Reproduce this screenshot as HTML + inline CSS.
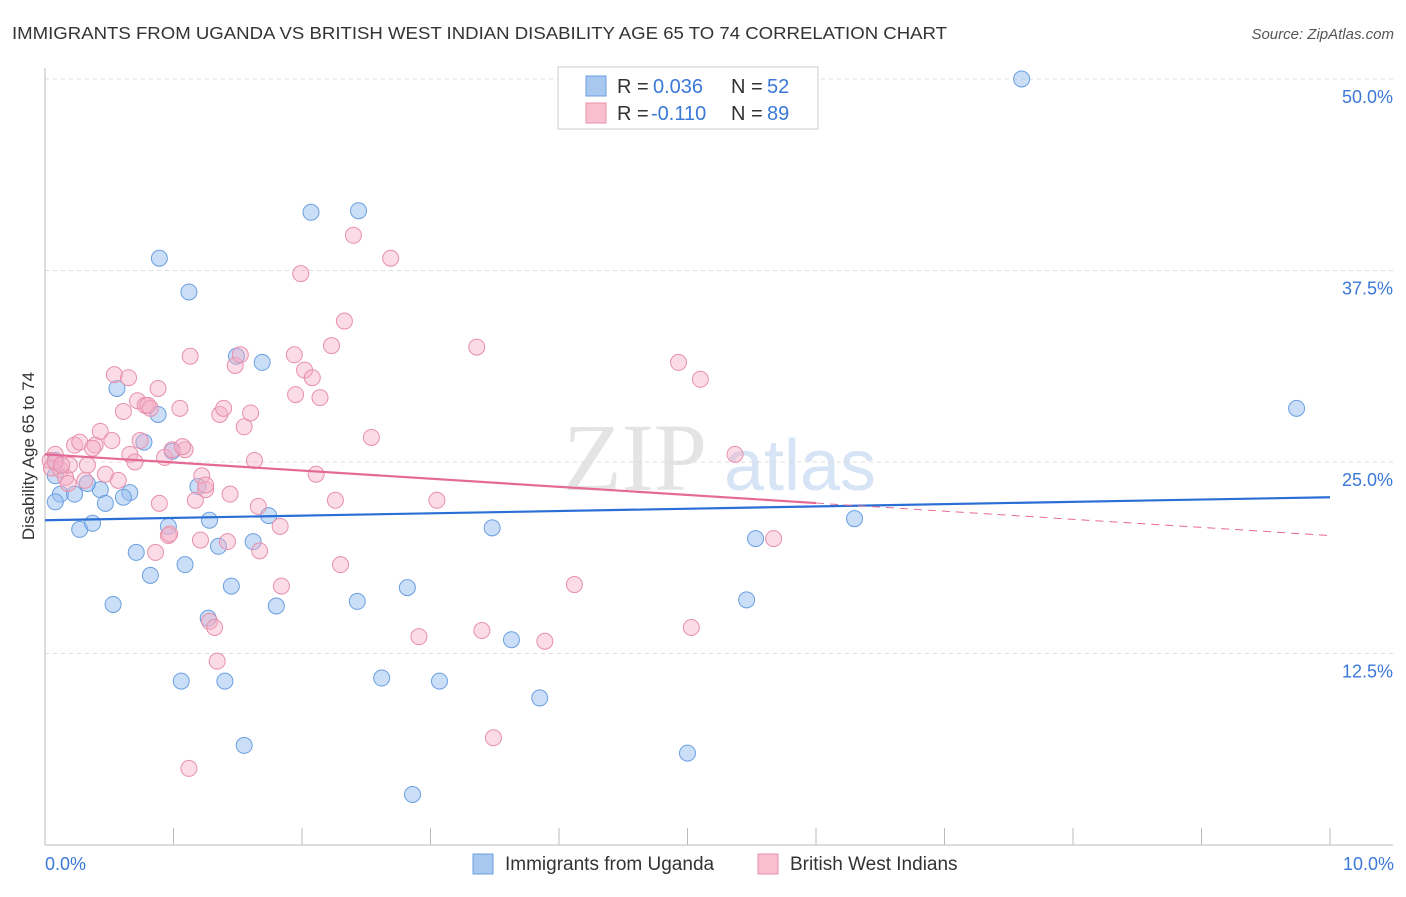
<!DOCTYPE html>
<html><head><meta charset="utf-8"><style>
body{margin:0;background:#fff;font-family:"Liberation Sans",sans-serif}
</style></head><body>
<svg id="c" width="1406" height="892" xmlns="http://www.w3.org/2000/svg">
<text x="12" y="39" font-size="17.5" fill="#333" textLength="935" lengthAdjust="spacingAndGlyphs">IMMIGRANTS FROM UGANDA VS BRITISH WEST INDIAN DISABILITY AGE 65 TO 74 CORRELATION CHART</text>
<text x="1394" y="39" font-size="15" fill="#555" font-style="italic" text-anchor="end">Source: ZipAtlas.com</text>
<text x="635" y="490" font-size="96" fill="#e4e4e4" font-family="Liberation Serif,serif" text-anchor="middle">ZIP</text>
<text x="800" y="490" font-size="72" fill="#d6e4f5" text-anchor="middle">atlas</text>
<g id="grid"></g>
<g id="pts"></g>
<g id="lines"></g>
<text transform="translate(34,456) rotate(-90)" font-size="17" fill="#333" text-anchor="middle">Disability Age 65 to 74</text>
<text x="45" y="870" font-size="18" fill="#3b78d8">0.0%</text>
<text x="1394" y="870" font-size="18" fill="#3b78d8" text-anchor="end">10.0%</text>
<g>
<rect x="558" y="67" width="260" height="62" fill="#fff" stroke="#ccc"/>
<rect x="586" y="76" width="20" height="20" fill="#a9c8f0" stroke="#6a9fe0"/>
<rect x="586" y="103" width="20" height="20" fill="#f7bfd0" stroke="#e890ab"/>
<text x="617" y="93" font-size="20" fill="#333">R = </text><text x="653" y="93" font-size="20" fill="#3b78d8">0.036</text>
<text x="731" y="93" font-size="20" fill="#333">N = </text><text x="767" y="93" font-size="20" fill="#3b78d8">52</text>
<text x="617" y="120" font-size="20" fill="#333">R = </text><text x="651" y="120" font-size="20" fill="#3b78d8">-0.110</text>
<text x="731" y="120" font-size="20" fill="#333">N = </text><text x="767" y="120" font-size="20" fill="#3b78d8">89</text>
</g>
<g>
<rect x="473" y="854" width="20" height="20" fill="#a9c8f0" stroke="#6a9fe0"/>
<text x="505" y="870" font-size="19" fill="#333">Immigrants from Uganda</text>
<rect x="758" y="854" width="20" height="20" fill="#f7bfd0" stroke="#e890ab"/>
<text x="790" y="870" font-size="19" fill="#333">British West Indians</text>
</g>
</svg>
<script>
const yTicks=[12.5,25,37.5,50];
const yTickLabels=["12.5%","25.0%","37.5%","50.0%"];
const xTicks=[1,2,3,4,5,6,7,8,9,10];
const blueX=[7.60,2.07,2.44,0.89,1.12,1.49,1.69,0.56,0.88,9.74,0.77,0.99,0.08,0.08,0.12,0.23,0.43,0.66,0.61,0.47,0.08,1.19,0.27,0.37,1.28,1.74,0.96,1.62,3.48,6.30,5.53,0.71,1.35,1.09,0.82,1.45,2.82,0.53,1.80,2.43,5.46,1.27,3.63,1.06,1.40,2.62,3.07,3.85,1.55,5.00,2.86,0.33];
const blueY=[50.0,41.3,41.4,38.3,36.1,31.9,31.5,29.8,28.1,28.5,26.3,25.7,25.1,24.1,22.9,22.9,23.2,23.0,22.7,22.3,22.4,23.4,20.6,21.0,21.2,21.5,20.8,19.8,20.7,21.3,20.0,19.1,19.5,18.3,17.6,16.9,16.8,15.7,15.6,15.9,16.0,14.8,13.4,10.7,10.7,10.9,10.7,9.6,6.5,6.0,3.3,23.6];
const pinkX=[0.08,0.04,0.05,0.12,0.16,0.19,0.23,0.27,0.31,0.39,0.43,0.47,0.52,0.54,0.57,0.61,0.65,0.66,0.70,0.72,0.78,0.82,0.86,0.88,0.89,0.93,0.96,0.99,1.05,1.09,1.13,1.17,1.21,1.22,1.25,1.28,1.32,1.34,1.36,1.39,1.42,1.44,1.48,1.52,1.55,1.60,1.63,1.66,1.67,1.83,1.84,1.94,1.95,1.99,2.02,2.08,2.11,2.14,2.23,2.26,2.30,2.33,2.40,2.54,2.69,2.91,3.05,3.36,3.40,3.49,3.89,4.12,4.93,5.03,5.10,5.37,5.67,1.12,0.08,0.13,0.18,0.33,0.37,0.74,0.80,0.97,1.25,1.07];
const pinkY=[25.5,25.1,24.6,24.5,24.0,24.8,26.1,26.3,23.8,26.1,27.0,24.2,26.4,30.7,23.8,28.3,30.5,25.5,25.0,29.0,28.7,28.5,19.1,29.8,22.3,25.3,20.2,25.8,28.5,25.8,31.9,22.5,19.9,24.1,23.2,14.6,14.2,12.0,28.1,28.5,19.8,22.9,31.3,32.0,27.3,28.2,25.1,22.1,19.2,20.8,16.9,32.0,29.4,37.3,31.0,30.5,24.2,29.2,32.6,22.5,18.3,34.2,39.8,26.6,38.3,13.6,22.5,32.5,14.0,7.0,13.3,17.0,31.5,14.2,30.4,25.5,20.0,5.0,25.0,24.8,23.6,24.8,25.9,26.4,28.7,20.3,23.5,26.0];
const blueTrend=[21.2,22.7];
const pinkTrend=[25.5,20.2];
const pinkSolidEnd=6.0;
const NS='http://www.w3.org/2000/svg';
const sx=v=>45+v*128.5, sy=v=>845-v*15.32;
function mk(t,a,p){const e=document.createElementNS(NS,t);for(const k in a)e.setAttribute(k,a[k]);p.appendChild(e);return e;}
const g=document.getElementById('grid');
yTicks.forEach((t,i)=>{
 const l=mk('line',{x1:45,x2:1393,y1:sy(t),y2:sy(t),stroke:'#ddd','stroke-dasharray':'4 4'},g);
 
 
 const tx=mk('text',{x:1393,y:sy(t)+24,'font-size':18,fill:'#3b78d8','text-anchor':'end'},g);
 tx.textContent=yTickLabels[i];
 
 
});
const ax=mk('line',{x1:45,x2:45,y1:68,y2:845,stroke:'#bbb'},g);


const bx=mk('line',{x1:45,x2:1393,y1:845,y2:845,stroke:'#bbb'},g);


xTicks.forEach(t=>{
 const l=mk('line',{x1:sx(t),x2:sx(t),y1:828,y2:845,stroke:'#bbb'},g);
 
 
});
const p=document.getElementById('pts');
blueX.forEach((x,i)=>{
 const c=mk('circle',{cx:sx(x),cy:sy(blueY[i]),r:8,fill:'rgba(150,190,240,0.5)',stroke:'#6a9fe0','stroke-width':1},p);
 
 
});
pinkX.forEach((x,i)=>{
 const c=mk('circle',{cx:sx(x),cy:sy(pinkY[i]),r:8,fill:'rgba(245,175,200,0.45)',stroke:'#e890ab','stroke-width':1},p);
 
 
});
const L=document.getElementById('lines');
const bl=mk('line',{x1:sx(0),y1:sy(blueTrend[0]),x2:sx(10),y2:sy(blueTrend[1]),stroke:'#2a6fd6','stroke-width':2.2},L);


const pm=pinkTrend[0]+(pinkTrend[1]-pinkTrend[0])*pinkSolidEnd/10;
const pl=mk('line',{x1:sx(0),y1:sy(pinkTrend[0]),x2:sx(pinkSolidEnd),y2:sy(pm),stroke:'#e46a95','stroke-width':2.2},L);


const pd=mk('line',{x1:sx(pinkSolidEnd),y1:sy(pm),x2:sx(10),y2:sy(pinkTrend[1]),stroke:'#e46a95','stroke-width':1,'stroke-dasharray':'8 6'},L);


</script>
</body></html>
